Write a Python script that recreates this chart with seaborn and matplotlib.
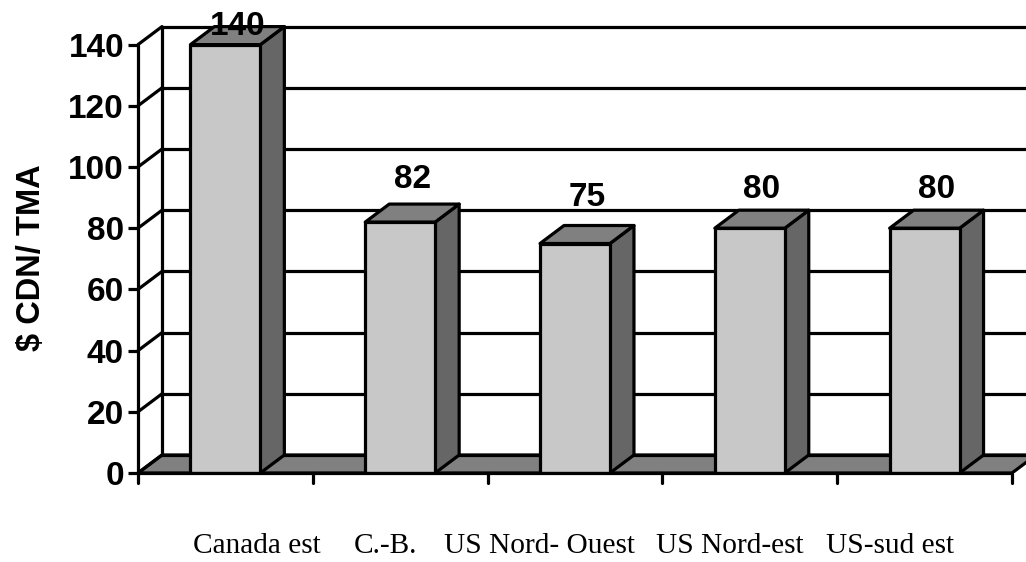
import matplotlib
matplotlib.use("Agg")
import matplotlib.pyplot as plt
from matplotlib.patches import Polygon
import pandas as pd
import seaborn as sns

# Data
regions = ["Canada est", "C.-B.", "US Nord- Ouest", "US Nord-est", "US-sud est"]
prices = [140, 82, 75, 80, 80]
y_ticks = [0, 20, 40, 60, 80, 100, 120, 140]

# px above the back top edge of each bar for the value label
label_lift = [-8, 16, 20, 12, 12]
# px centres of the category labels, they are not under the ticks in the original
label_x = [257, 385, 540, 730, 890]

df = pd.DataFrame({"region": regions, "price": prices})

FRONT = "#c8c8c8"
SIDE = "#666666"
FLOOR = "#808080"
LW = 2.3

sns.set_theme(style="white")
plt.rcParams["font.family"] = ["Liberation Sans", "DejaVu Sans"]

W, H = 1026, 562
LEFT = 138
fig = plt.figure(figsize=(W / 100, H / 100), dpi=100)
ax = fig.add_axes([LEFT / W, 1 - 473 / H, (W - LEFT) / W, (473 - 27) / H])

cat_w = 174.8  # px per category
unit = 3.06  # px per y unit
xmax = -0.5 + (W - LEFT) / cat_w
ax.set_xlim(-0.5, xmax)
ax.set_ylim(0, (473 - 27) / unit)
dx = 24 / cat_w
dy = 18 / unit
bw = 0.4
n = len(regions)
x0, x1 = -0.5, n - 0.5

# floor and back wall
ax.add_patch(Polygon([(x0, 0), (x1, 0), (x1 + dx, dy), (x0 + dx, dy)], closed=True,
                     fc=FLOOR, ec="black", lw=LW, zorder=1, joinstyle="round"))
for t in y_ticks:
    ax.plot([x0, x0 + dx], [t, t + dy], color="black", lw=LW, zorder=1.5, clip_on=False)
    ax.plot([x0 + dx, xmax], [t + dy, t + dy], color="black", lw=LW, zorder=1.5, clip_on=False)
ax.plot([x0 + dx, x0 + dx], [dy, y_ticks[-1] + dy], color="black", lw=LW, zorder=1.5, clip_on=False)

# front faces
sns.barplot(data=df, x="region", y="price", color=FRONT, saturation=1, width=bw,
            edgecolor="black", linewidth=LW, zorder=3, ax=ax)
ax.set_xlim(-0.5, xmax)
for bar in ax.patches:
    bar.set_joinstyle("round")

# side and top faces, value labels
for i, v in enumerate(prices):
    l, r = i - bw / 2, i + bw / 2
    ax.add_patch(Polygon([(r, 0), (r + dx, dy), (r + dx, v + dy), (r, v)], closed=True,
                         fc=SIDE, ec="black", lw=LW, zorder=2.5, clip_on=False, joinstyle="round"))
    ax.add_patch(Polygon([(l, v), (r, v), (r + dx, v + dy), (l + dx, v + dy)], closed=True,
                         fc=FLOOR, ec="black", lw=LW, zorder=2.5, clip_on=False, joinstyle="round"))
    ax.text(i + dx / 2, v + dy + label_lift[i] / unit, str(v), ha="center", va="baseline",
            fontsize=24, fontweight="bold", color="black", zorder=5, clip_on=False)

# axes
for s in ax.spines.values():
    s.set_visible(False)
ax.plot([x0, x0], [0, y_ticks[-1]], color="black", lw=LW, zorder=4, clip_on=False)
ax.plot([x0, x1], [0, 0], color="black", lw=LW, zorder=4, clip_on=False)
ax.set_yticks(y_ticks)
ax.set_yticklabels([str(t) for t in y_ticks], fontsize=24, fontweight="bold", color="black")
ax.tick_params(axis="y", left=True, length=7, width=LW, color="black", pad=3)
ax.set_xticks(range(n))
ax.set_xticklabels([])
ax.tick_params(axis="x", bottom=False)
for i in range(n + 1):
    ax.plot([x0 + i, x0 + i], [0, -10 / unit], color="black", lw=LW, clip_on=False)
ax.set_xlabel("")
ax.set_ylabel("$ CDN/ TMA", fontsize=23.5, fontweight="bold", color="black", va="center")
ax.yaxis.set_label_coords((32 - LEFT) / (W - LEFT), (473 - 258) / (473 - 27))

# category labels in serif
for name, px in zip(regions, label_x):
    fig.text(px / W, 1 - 553 / H, name, ha="center", va="baseline",
             family="Liberation Serif", fontsize=21.2, color="black")

fig.savefig("out.png", dpi=100)
